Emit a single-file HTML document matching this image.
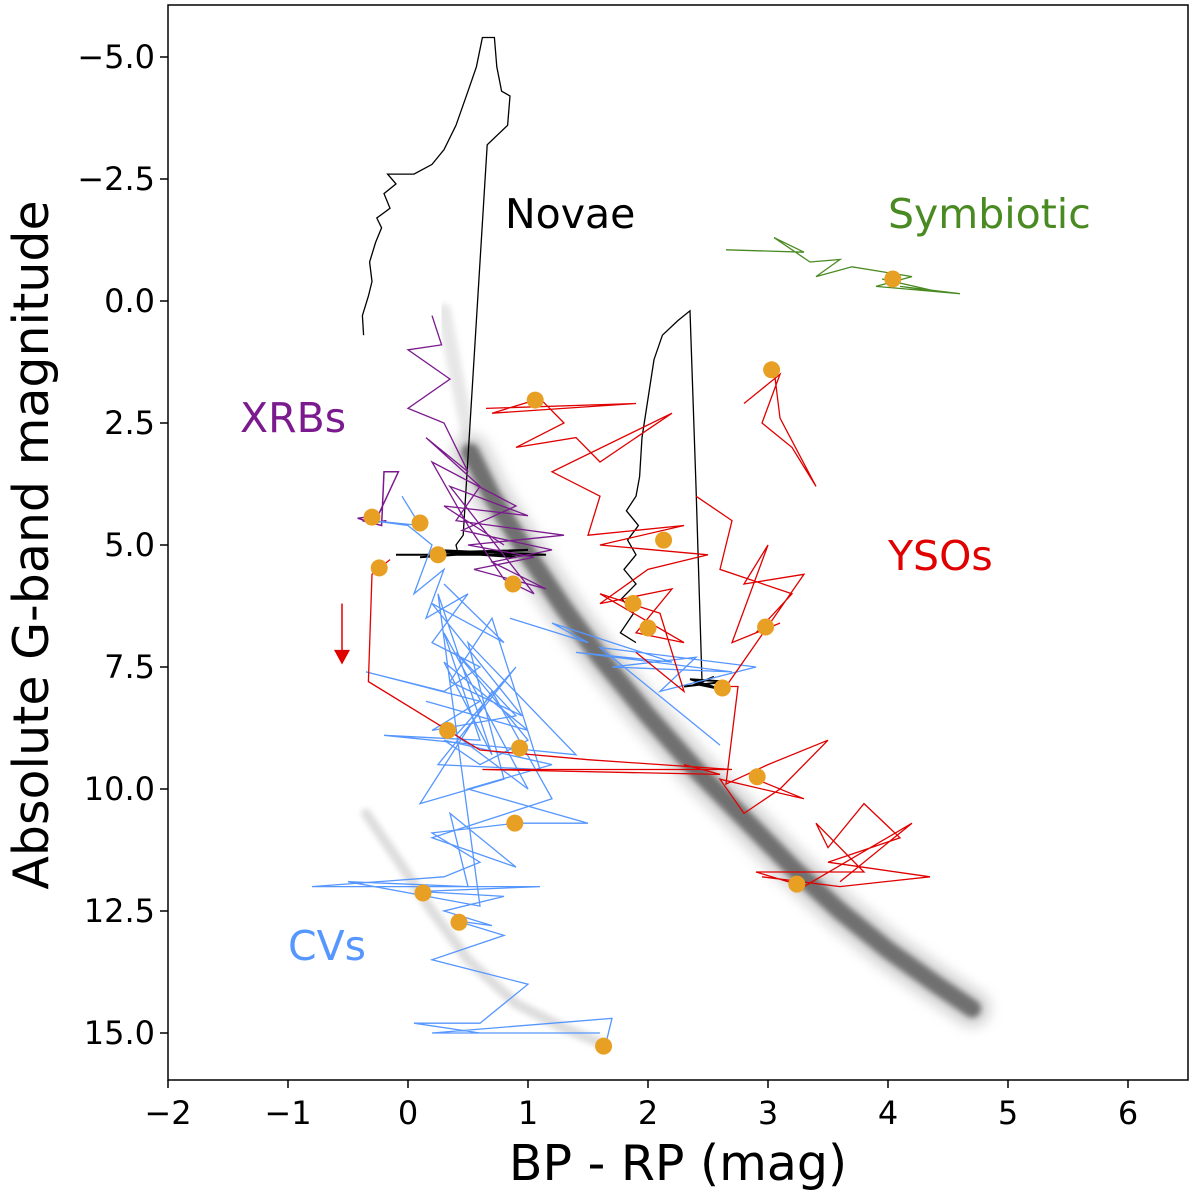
<!DOCTYPE html>
<html><head><meta charset="utf-8"><style>
body{margin:0;background:#fff}
svg{display:block}
text{font-family:"DejaVu Sans","Liberation Sans",sans-serif}
</style></head><body>
<svg id="chart" width="1200" height="1198" viewBox="0 0 1200 1198" xmlns="http://www.w3.org/2000/svg">
<defs><filter id="blur" x="-20%" y="-20%" width="140%" height="140%"><feGaussianBlur stdDeviation="6"/></filter>
<filter id="blur2"><feGaussianBlur stdDeviation="3"/></filter>
<clipPath id="clip"><rect x="168" y="5" width="1020" height="1075"/></clipPath></defs>
<g id="plot" clip-path="url(#clip)"></g>
<rect x="168" y="5" width="1020" height="1075" fill="none" stroke="#000" stroke-width="1.5"/>
<g id="axes"></g>
<text x="505" y="228" font-size="41" fill="#000">Novae</text>
<text x="888" y="228" font-size="41" fill="#4a8a22">Symbiotic</text>
<text x="240" y="432" font-size="41" fill="#7b1a8e">XRBs</text>
<text x="888" y="570" font-size="41" fill="#e00000">YSOs</text>
<text x="288" y="960" font-size="41" fill="#5596ff">CVs</text>
<text x="678" y="1180" font-size="49" text-anchor="middle">BP - RP (mag)</text>
<text transform="translate(48,545) rotate(-90)" font-size="49" text-anchor="middle">Absolute G-band magnitude</text>
</svg>
<script>
const xTicks=[-2,-1,0,1,2,3,4,5,6];
const yTicks=[-5.0,-2.5,0.0,2.5,5.0,7.5,10.0,12.5,15.0];
const upperMS=[[0.3,0.2],[0.4,1.5],[0.5,2.7]];
const mainSeq=[[0.52,3.1],[0.7,4.0],[1.0,5.2],[1.3,6.3],[1.6,7.3],[2.0,8.5],[2.4,9.6],[2.8,10.6],[3.2,11.6],[3.6,12.5],[4.0,13.3],[4.4,14.0],[4.7,14.5]];
const wdSeq=[[-0.35,10.5],[-0.1,11.4],[0.2,12.5],[0.5,13.5],[0.9,14.4],[1.3,14.9],[1.6,15.2]];
const novae1=[[-0.37,0.7],[-0.38,0.3],[-0.33,-0.1],[-0.3,-0.4],[-0.32,-0.8],[-0.27,-1.2],[-0.22,-1.5],[-0.26,-1.7],[-0.15,-1.9],[-0.2,-2.2],[-0.1,-2.4],[-0.17,-2.6],[0.05,-2.6],[0.2,-2.8],[0.3,-3.1],[0.4,-3.6],[0.5,-4.3],[0.57,-4.8],[0.62,-5.4],[0.72,-5.4],[0.74,-4.8],[0.78,-4.3],[0.85,-4.2],[0.83,-3.6],[0.66,-3.2],[0.46,4.8],[0.4,5.0],[0.42,5.2]];
const novae1h=[[-0.1,5.2],[1.15,5.2],[0.2,5.1],[0.9,5.25],[0.3,5.15],[1.0,5.1],[0.1,5.25],[0.7,5.15]];
const novae2=[[2.45,7.8],[2.4,3.8],[2.35,0.2],[2.25,0.4],[2.12,0.7],[2.05,1.2],[2.0,2.0],[1.95,2.8],[1.93,3.6],[1.9,4.0],[1.82,4.3],[1.92,4.6],[1.83,4.9],[1.9,5.2],[1.8,5.5],[1.9,5.8],[1.78,6.1],[1.88,6.4],[1.77,6.8],[1.9,7.0]];
const novae2h=[[2.3,7.9],[2.65,7.8],[2.35,7.75],[2.6,7.95],[2.4,7.85],[2.55,7.7]];
const symb=[[2.65,-1.05],[3.3,-1.0],[3.05,-1.3],[3.35,-0.8],[3.6,-0.85],[3.4,-0.5],[3.7,-0.7],[4.2,-0.5],[3.9,-0.3],[4.6,-0.15],[4.1,-0.3],[4.4,-0.2],[3.95,-0.45]];
const xrb=[[0.2,0.3],[0.28,0.9],[0.0,1.0],[0.35,1.6],[0.0,2.2],[0.3,2.5],[0.5,3.5],[0.15,2.8],[0.6,3.8],[0.4,4.5],[1.3,4.8],[0.5,5.0],[1.05,5.25],[0.55,5.5],[1.15,5.9],[0.7,5.35],[1.2,5.1],[0.45,4.7],[0.9,4.2],[0.2,3.3],[0.5,4.6],[0.8,5.7],[1.05,6.0],[0.35,3.8],[1.0,4.4],[0.3,4.2],[0.8,5.0]];
const xrb2=[[-0.38,4.5],[-0.22,4.6],[-0.2,3.5],[-0.08,3.5],[-0.25,4.4],[-0.42,4.45],[-0.3,4.55],[-0.18,4.5]];
const cv1=[[-0.05,4.0],[0.1,4.6],[-0.3,4.5],[0.0,4.6],[0.2,5.0],[0.05,6.0],[0.3,5.5],[0.15,6.5],[0.5,6.0],[0.2,7.0],[0.6,7.5],[0.3,8.0],[-0.35,7.6],[0.6,8.2],[0.2,8.8],[0.9,8.5],[0.4,7.2],[1.0,9.0],[0.6,9.5],[0.3,9.0],[1.2,9.5],[0.5,10.0],[1.5,10.7],[0.9,10.7],[0.2,10.9],[0.6,11.5],[0.3,11.8],[-0.8,12.0],[1.1,12.0],[0.1,12.1],[0.8,12.2],[0.3,12.5],[0.7,12.8],[0.4,12.7],[0.8,13.0],[0.2,13.5],[1.0,14.0],[0.6,14.8],[0.05,14.8],[0.6,15.0],[1.6,15.0],[0.2,15.0],[1.7,14.7],[1.65,15.2]];
const cv2=[[0.3,5.8],[0.8,7.0],[0.2,6.2],[0.95,8.5],[0.35,7.8],[0.7,6.5],[1.1,9.6],[0.25,9.5],[0.9,7.5],[0.4,8.9],[1.0,10.0],[0.3,6.8],[0.6,9.0],[-0.2,8.9],[1.4,9.3],[0.5,7.0],[0.8,9.8],[0.1,10.3],[0.7,8.0],[1.2,10.2],[0.2,11.0],[0.9,11.6],[0.35,10.5],[0.5,12.0],[-0.5,11.9],[0.6,12.4],[0.25,6.0],[0.7,9.3],[0.3,7.4],[1.0,8.8],[0.15,8.2]];
const cv3=[[0.85,6.5],[1.5,7.0],[1.2,6.6],[2.2,7.4],[1.4,7.2],[2.7,7.6],[1.7,7.5],[2.4,7.3],[2.1,8.0],[2.9,7.5],[1.6,7.1],[2.6,9.1]];
const ysoA=[[-0.25,5.5],[-0.15,5.3],[-0.3,5.6],[-0.33,7.8],[0.6,9.2],[1.5,9.4],[2.7,9.6],[0.62,9.6],[2.6,9.7],[2.3,9.5]];
const ysoB=[[0.65,2.2],[1.9,2.1],[0.7,2.3],[1.1,2.0],[1.3,2.5],[0.9,3.0],[1.4,2.8],[1.6,3.3],[2.2,2.3],[1.2,3.5],[1.6,4.0],[1.5,4.8],[2.3,4.6],[1.6,5.0],[2.5,5.2],[2.0,5.5],[1.6,6.2],[2.2,5.9],[1.9,6.8],[2.3,7.0],[1.6,6.0],[2.1,6.4],[2.3,8.0],[1.9,7.2]];
const ysoC=[[2.4,4.0],[2.7,4.5],[2.6,5.5],[3.2,6.0],[2.9,6.8],[3.1,6.6],[2.7,7.0],[3.0,5.0],[2.8,5.8],[3.3,5.6],[2.65,7.9],[2.75,7.9],[2.65,9.9],[3.0,9.5],[3.5,9.0],[3.1,10.0],[2.8,10.5],[2.6,9.8],[3.3,10.2],[2.9,9.8]];
const ysoD=[[2.8,2.1],[3.0,1.7],[3.1,1.5],[2.95,2.5],[3.2,3.0],[3.4,3.8],[3.1,2.4],[3.05,1.4]];
const ysoE=[[2.95,11.8],[3.6,12.0],[4.35,11.8],[3.5,11.5],[4.1,11.0],[3.8,10.3],[3.5,11.2],[3.4,10.7],[3.8,11.7],[2.9,11.7],[3.3,12.0],[4.2,10.7],[3.6,11.9]];
const dots=[[-0.3,4.43],[-0.24,5.47],[0.1,4.55],[0.25,5.2],[0.875,5.8],[1.06,2.03],[1.875,6.2],[2.0,6.7],[2.13,4.9],[2.62,7.93],[3.03,1.41],[2.98,6.68],[2.91,9.75],[3.24,11.95],[0.33,8.8],[0.93,9.16],[0.89,10.7],[0.125,12.13],[0.425,12.73],[1.63,15.27],[4.04,-0.45]];

const X=v=>408+120*v, Y=v=>301+48.8*v;
const NS='http://www.w3.org/2000/svg';
const plot=document.getElementById('plot'), axes=document.getElementById('axes');
function mk(tag,attrs,parent){const e=document.createElementNS(NS,tag);for(const k in attrs)e.setAttribute(k,attrs[k]);parent.appendChild(e);return e;}
function pts(a){return a.map(p=>X(p[0]).toFixed(1)+','+Y(p[1]).toFixed(1)).join(' ');}
function line(a,color,w,name,extra){const e=mk('polyline',Object.assign({points:pts(a),fill:'none',stroke:color,'stroke-width':w,'stroke-linejoin':'miter'},extra||{}),plot);


return e;}
line(upperMS,'#ddd',14,'upper-main-sequence',{filter:'url(#blur2)','stroke-linecap':'round',opacity:0.7});
line(mainSeq,'#bbb',38,'main-sequence-halo',{filter:'url(#blur)','stroke-linecap':'round',opacity:0.6});
line(mainSeq,'#444',18,'main-sequence',{filter:'url(#blur2)','stroke-linecap':'round',opacity:0.7});
line(wdSeq,'#d4d4d4',10,'white-dwarf-sequence',{filter:'url(#blur2)','stroke-linecap':'round',opacity:0.8});
line(novae1,'#000',1.3,'novae-track-1');
line(novae1h,'#000',2,'novae-cluster-1');
line(novae2,'#000',1.3,'novae-track-2');
line(novae2h,'#000',2,'novae-cluster-2');
line(symb,'#4a8a22',1.3,'symbiotic-track');
line(xrb,'#7b1a8e',1.3,'xrb-track-1');
line(xrb2,'#7b1a8e',1.5,'xrb-track-2');
line(cv1,'#5596ff',1.3,'cv-track-1');
line(cv2,'#5596ff',1.3,'cv-track-2');
line(cv3,'#5596ff',1.3,'cv-track-3');
line(ysoA,'#e00000',1.3,'yso-track-a');
line(ysoB,'#e00000',1.3,'yso-track-b');
line(ysoC,'#e00000',1.3,'yso-track-c');
line(ysoD,'#e00000',1.3,'yso-track-d');
line(ysoE,'#e00000',1.3,'yso-track-e');
dots.forEach((d,i)=>{const c=mk('circle',{cx:X(d[0]),cy:Y(d[1]),r:8.5,fill:'#e8a024'},plot);

});
const ar=mk('g',{},plot);


mk('line',{x1:X(-0.55),y1:Y(6.2),x2:X(-0.55),y2:Y(7.2),stroke:'#e00000','stroke-width':1.5},ar);
mk('polygon',{points:`${X(-0.55)-8},${Y(7.15)} ${X(-0.55)+8},${Y(7.15)} ${X(-0.55)},${Y(7.45)}`,fill:'#e00000'},ar);
xTicks.forEach(t=>{mk('line',{x1:X(t),x2:X(t),y1:1080,y2:1088,stroke:'#000','stroke-width':1.5},axes);
const tx=mk('text',{x:X(t),y:1124,'font-size':32,'text-anchor':'middle'},axes);tx.textContent=t<0?'\u2212'+(-t):String(t);

});
yTicks.forEach(t=>{mk('line',{x1:160,x2:168,y1:Y(t),y2:Y(t),stroke:'#000','stroke-width':1.5},axes);
const tx=mk('text',{x:155,y:Y(t)+11,'font-size':32,'text-anchor':'end'},axes);tx.textContent=(t<0?'\u2212':'')+Math.abs(t).toFixed(1);

});
</script>
</body></html>
